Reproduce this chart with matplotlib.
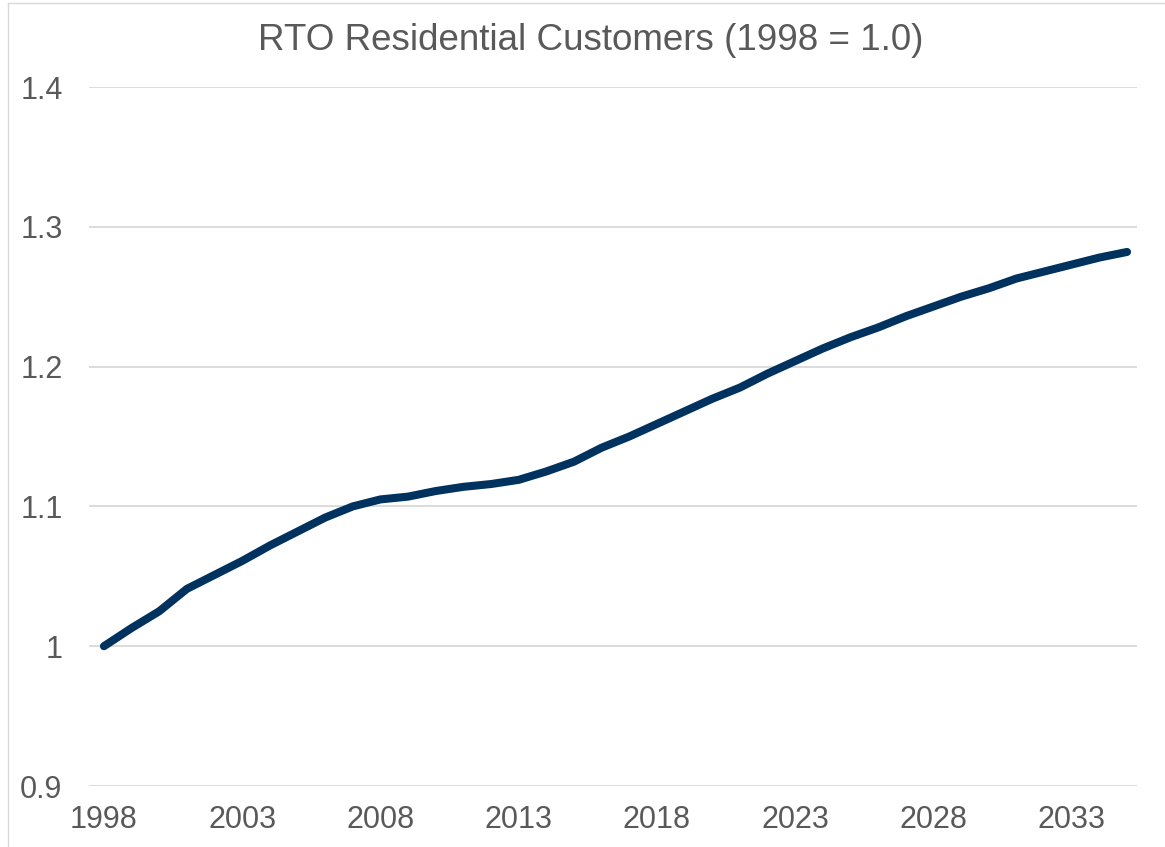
import matplotlib
matplotlib.use("Agg")
import matplotlib.pyplot as plt
from matplotlib.lines import Line2D

years = list(range(1998, 2036))
values = [1.000, 1.013, 1.025, 1.041, 1.051, 1.061, 1.072, 1.082, 1.092, 1.100,
          1.105, 1.107, 1.111, 1.114, 1.116, 1.119, 1.125, 1.132, 1.142, 1.150,
          1.159, 1.168, 1.177, 1.185, 1.195, 1.204, 1.213, 1.221, 1.228, 1.236,
          1.243, 1.250, 1.256, 1.263, 1.268, 1.273, 1.278, 1.282]
x_ticks = [1998, 2003, 2008, 2013, 2018, 2023, 2028, 2033]
y_ticks = [0.9, 1.0, 1.1, 1.2, 1.3, 1.4]
y_labels = ["0.9", "1", "1.1", "1.2", "1.3", "1.4"]
title = "RTO Residential Customers (1998 = 1.0)"

plt.rcParams['font.family'] = ['Liberation Sans', 'DejaVu Sans']
W, H = 1165, 847
fig = plt.figure(figsize=(W / 100, H / 100), dpi=100)
ax = fig.add_axes([89 / W, 1 - 786 / H, (1137 - 89) / W, (786 - 87) / H])

ax.plot(years, values, color="#00325F", lw=5.8, solid_capstyle="round",
        solid_joinstyle="round", zorder=3)

ax.set_xlim(1997.46, 2035.36)
ax.set_ylim(0.9, 1.4)
ax.set_yticks(y_ticks)
ax.set_yticklabels(y_labels)
ax.set_xticks(x_ticks)
ax.set_xticklabels([str(t) for t in x_ticks])
ax.grid(axis="y", color="#D9D9D9", lw=1.3)
ax.set_axisbelow(True)
for s in ax.spines.values():
    s.set_visible(False)
ax.tick_params(axis="both", length=0, labelsize=22, labelcolor="#595959")
ax.tick_params(axis="y", pad=19)
ax.tick_params(axis="x", pad=14)

fig.text(591 / W, 1 - 41 / H, title, ha="center", va="center",
         fontsize=26.5, color="#595959")

# light frame of the chart area
fig.add_artist(Line2D([8 / W, 8 / W], [0, 1 - 3 / H], transform=fig.transFigure,
                      color="#D9D9D9", lw=1))
fig.add_artist(Line2D([8 / W, 1], [1 - 3 / H, 1 - 3 / H], transform=fig.transFigure,
                      color="#D9D9D9", lw=1))

fig.savefig("out.png", dpi=100)
